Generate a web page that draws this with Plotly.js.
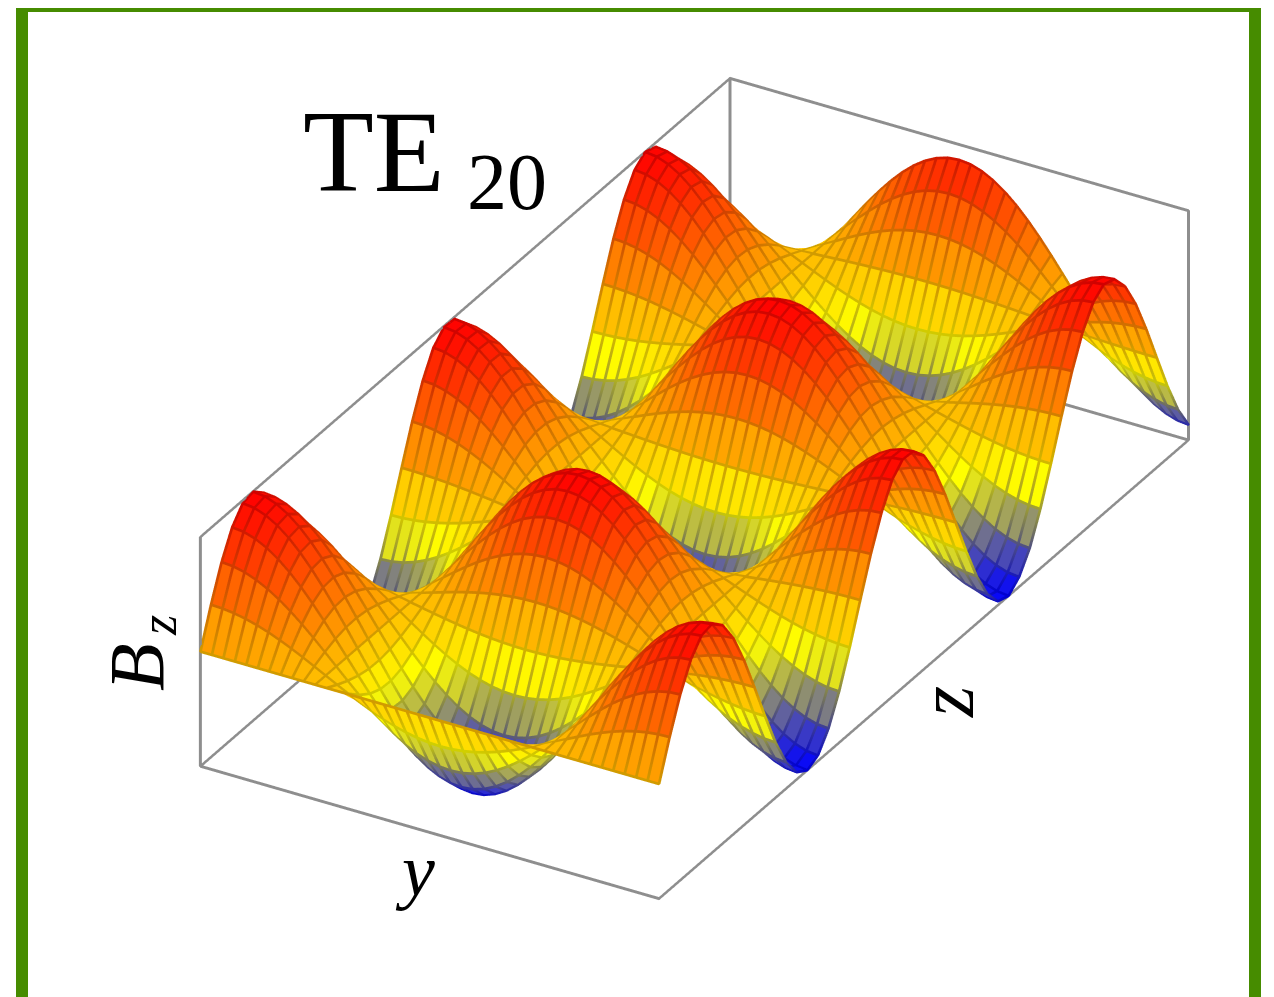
<!DOCTYPE html>
<html><head><meta charset="utf-8">
<script src="https://cdn.plot.ly/plotly-3.0.1.min.js"></script>
<style>html,body{margin:0;padding:0;background:#fff}#g{width:1274px;height:997px}</style></head>
<body><div id="g"></div>
<script>
// Wave shape across the guide (41 mesh lines, y = 0..1)
const yProfile = [1,.988,.951,.891,.809,.707,.588,.454,.309,.156,0,-.156,-.309,-.454,-.588,-.707,-.809,-.891,-.951,-.988,-1,
 -.988,-.951,-.891,-.809,-.707,-.588,-.454,-.309,-.156,0,.156,.309,.454,.588,.707,.809,.891,.951,.988,1];
// Wave shape along the guide (51 mesh lines, z = 0..1)
const zProfile = [0,.329,.621,.844,.974,.995,.905,.714,.445,.125,-.208,-.518,-.771,-.937,-1,-.951,-.796,-.553,-.249,.084,
 .407,.685,.891,.990,.982,.866,.655,.368,.042,-.290,-.588,-.823,-.966,-.999,-.914,-.743,-.482,-.167,.167,.482,
 .743,.922,.998,.963,.821,.588,.289,-.042,-.368,-.653,-.866];
const mapPos = [0,.34,.56,1];
const mapRGB = [[0,0,255],[255,255,0],[255,165,0],[255,0,0]];
const lineShade = 0.82;
const boxColor = '#8e8e8e', frameColor = '#468c00';
const xRange=[0,1], yRange=[0,1], zRange=[0,1];
const labels = [
 {t:'TE', x:374, y:152, s:116, i:0, a:0},
 {t:'20', x:507, y:182, s:80, i:0, a:0},
 {t:'B', x:136, y:667, s:78, i:1, a:-90},
 {t:'z', x:158, y:626, s:52, i:1, a:-90},
 {t:'y', x:415, y:870, s:74, i:1, a:0},
 {t:'z', x:946, y:702, s:80, i:1, a:-90}
];

const nY=yProfile.length, nZ=zProfile.length;
const h=zProfile.map(s=>yProfile.map(c=>.5+.5*c*s));
function mapColor(v,k){
  let n=1; while(n<mapPos.length-1 && v>mapPos[n]) n++;
  const f=Math.min(1,Math.max(0,(v-mapPos[n-1])/(mapPos[n]-mapPos[n-1])));
  const c=mapRGB[n-1].map((a,q)=>(a+(mapRGB[n][q]-a)*f)*k);
  return 'rgb('+c.map(Math.round).join(',')+')';
}
const X=[],Y=[],Z=[],I=[],J=[],K=[],FC=[];
for(let a=0;a<nZ;a++)for(let b=0;b<nY;b++){X.push(b/(nY-1));Y.push(a/(nZ-1));Z.push(h[a][b]);}
for(let a=0;a<nZ-1;a++)for(let b=0;b<nY-1;b++){
  const p=a*nY+b,m=(h[a][b]+h[a][b+1]+h[a+1][b]+h[a+1][b+1])/4,col=mapColor(m,1);
  I.push(p,p);J.push(p+1,p+nY+1);K.push(p+nY+1,p+nY);FC.push(col,col);
}
// WebGL lines are 1 px here, so a stroke is several copies shifted by under a pixel in the view plane.
const pxX=531,pxY=1060,pxZ=265.6;               // screen pixels per data unit along each axis
const right=[.866,.5,0], up=[-.25,.433,.866], toward=[.433,-.75,.5];
const shift=(dir,px)=>[px*dir[0]/pxX,px*dir[1]/pxY,px*dir[2]/pxZ];
function brush(r){return [[0,0],[r,0],[-r,0],[0,r],[0,-r]];}
function stroke(lines,r,lift,colorOf){
  const o={x:[],y:[],z:[],c:[]};
  const t=shift(toward,lift);
  brush(r).forEach(b=>{
    const d0=shift(right,b[0]),d1=shift(up,b[1]);
    lines.forEach(pts=>{
      pts.forEach(p=>{o.x.push(p[0]+d0[0]+d1[0]+t[0]);o.y.push(p[1]+d0[1]+d1[1]+t[1]);o.z.push(p[2]+d0[2]+d1[2]+t[2]);o.c.push(colorOf(p));});
      o.x.push(null);o.y.push(null);o.z.push(null);o.c.push(0);
    });
  });
  return o;
}
const meshLines=[];
for(let b=0;b<nY;b++)meshLines.push(zProfile.map((s,a)=>[b/(nY-1),a/(nZ-1),h[a][b]]));
for(let a=0;a<nZ;a++)meshLines.push(yProfile.map((c,b)=>[b/(nY-1),a/(nZ-1),h[a][b]]));
const L=stroke(meshLines,.9,3,p=>p[2]);
const lineScale=[];
for(let q=0;q<=50;q++)lineScale.push([q/50,mapColor(q/50,lineShade)]);
// box: 9 visible edges, taken from the axis ranges
const x0=xRange[0],x1=xRange[1],y0=yRange[0],y1=yRange[1],z0=zRange[0],z1=zRange[1];
const boxLines=[[[x0,y0,z1],[x0,y0,z0],[x1,y0,z0],[x1,y1,z0],[x0,y1,z0],[x0,y0,z0]],
 [[x0,y0,z1],[x0,y1,z1],[x1,y1,z1],[x1,y1,z0]],[[x0,y1,z1],[x0,y1,z0]]];
const B=stroke(boxLines,1,0,p=>0);
const data=[
 {type:'mesh3d',x:X,y:Y,z:Z,i:I,j:J,k:K,facecolor:FC,flatshading:true,hoverinfo:'skip',showscale:false,
  lighting:{ambient:1,diffuse:0,specular:0,fresnel:0,roughness:1}},
 {type:'scatter3d',mode:'lines',x:L.x,y:L.y,z:L.z,hoverinfo:'skip',showlegend:false,
  line:{width:2,color:L.c,colorscale:lineScale,cmin:0,cmax:1,showscale:false}},
 {type:'scatter3d',mode:'lines',x:B.x,y:B.y,z:B.z,hoverinfo:'skip',showlegend:false,line:{width:2,color:boxColor}}
];
const hid={visible:false,showgrid:false,zeroline:false,showticklabels:false,showbackground:false,showspikes:false};
const W=1274,H=997,k=2.2,zoom=.542;
const layout={width:W,height:H,margin:{l:0,r:0,t:0,b:0},paper_bgcolor:'#fff',showlegend:false,
 scene:{domain:{x:[0.09,1],y:[0.02,1]},aspectmode:'manual',aspectratio:{x:2*zoom*1.1,y:4*zoom*1.1,z:zoom*1.2},
  xaxis:{...hid,range:[-.05,1.05]},yaxis:{...hid,range:[-.05,1.05]},zaxis:{...hid,range:[-.1,1.1]},
  camera:{eye:{x:.433*k,y:-.75*k,z:.5*k},center:{x:0,y:0,z:0},up:{x:0,y:0,z:1},projection:{type:'orthographic'}}},
 shapes:[[16,28,8,997],[1249,1261,8,997],[16,1261,8,12]].map(r=>({type:'rect',xref:'paper',yref:'paper',
   x0:r[0]/W,x1:r[1]/W,y0:1-r[2]/H,y1:1-r[3]/H,fillcolor:frameColor,line:{width:0},layer:'below'})),
 annotations:labels.map(l=>({xref:'paper',yref:'paper',x:l.x/W,y:1-l.y/H,xanchor:'center',yanchor:'middle',showarrow:false,
   text:l.i?'<i>'+l.t+'</i>':l.t,textangle:l.a,font:{family:'"Liberation Serif",serif',size:l.s,color:'#000'}}))
};
Plotly.newPlot('g',data,layout,{displayModeBar:false});
</script></body></html>
